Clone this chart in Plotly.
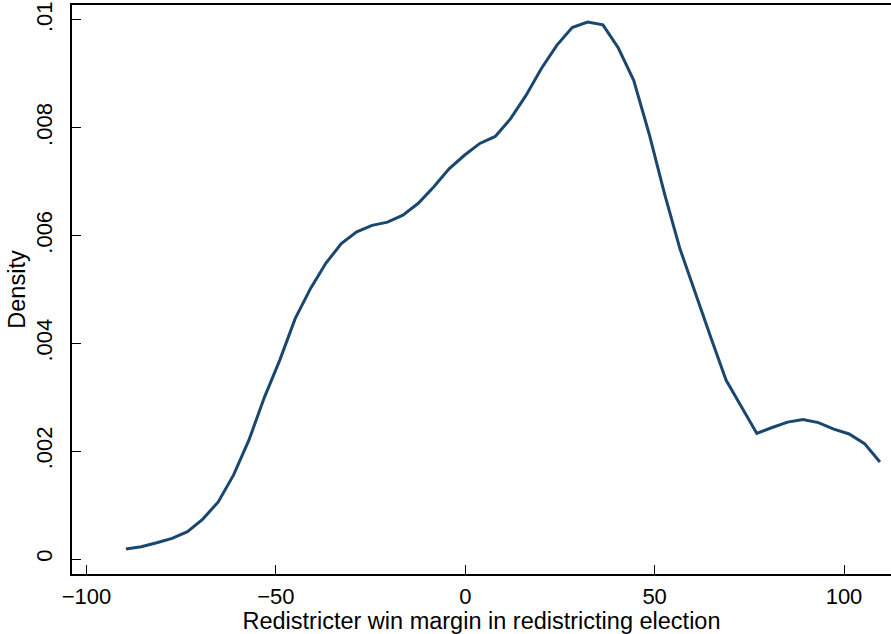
import plotly.graph_objects as go

# Kernel density evaluation points (50 points, Stata-style)
x_start = -89.6
x_step = 4.063
density = [
    0.000185, 0.000228, 0.000302, 0.000384, 0.000506, 0.000741, 0.00106, 0.00156,
    0.00221, 0.00300, 0.00369, 0.00446, 0.00502, 0.00549, 0.00585, 0.00607,
    0.00619, 0.00625, 0.00638, 0.00660, 0.00690, 0.00724, 0.00749, 0.00771,
    0.00784, 0.00817, 0.00860, 0.00910, 0.00953, 0.00986, 0.00996, 0.00991,
    0.00948, 0.00888, 0.00789, 0.00678, 0.00576, 0.00492, 0.00412, 0.00332,
    0.00282, 0.00233, 0.00244, 0.00254, 0.00259, 0.00253, 0.00241, 0.00232,
    0.00214, 0.00180,
]
margin_x = [round(x_start + i * x_step, 3) for i in range(len(density))]

x_tickvals = [-100, -50, 0, 50, 100]
y_tickvals = [0, 0.002, 0.004, 0.006, 0.008, 0.01]
y_ticktext = ["0", ".002", ".004", ".006", ".008", ".01"]

fig = go.Figure()
fig.add_trace(go.Scatter(
    x=margin_x, y=density, mode="lines",
    line=dict(color="#1a476f", width=3),
    showlegend=False, hoverinfo="skip",
))

font_family = "Liberation Sans, Arial, Helvetica, sans-serif"
fig.update_layout(
    width=891, height=634,
    margin=dict(l=72, r=0, t=5, b=60),
    paper_bgcolor="white", plot_bgcolor="white",
    font=dict(family=font_family, size=22, color="#000000"),
    xaxis=dict(
        range=[-103.83, 112.41], tickvals=x_tickvals,
        ticks="inside", ticklen=9, tickwidth=1.3, tickcolor="#000",
        showline=True, linecolor="#000", linewidth=1.5, mirror=True,
        showgrid=False, zeroline=False,
        tickfont=dict(size=22),
        ticklabelstandoff=2,
        title=dict(text="Redistricter win margin in redistricting election",
                   font=dict(size=23.5), standoff=0),
    ),
    yaxis=dict(
        range=[-0.000278, 0.010278], tickvals=y_tickvals, ticktext=y_ticktext,
        tickangle=-90,
        ticks="inside", ticklen=9, tickwidth=1.3, tickcolor="#000",
        showline=True, linecolor="#000", linewidth=1.5,
        showgrid=False, zeroline=False,
        tickfont=dict(size=22),
        ticklabelstandoff=9,
        title=dict(text="Density", font=dict(size=23.5), standoff=0),
    ),
)

fig.write_html("out.html")
